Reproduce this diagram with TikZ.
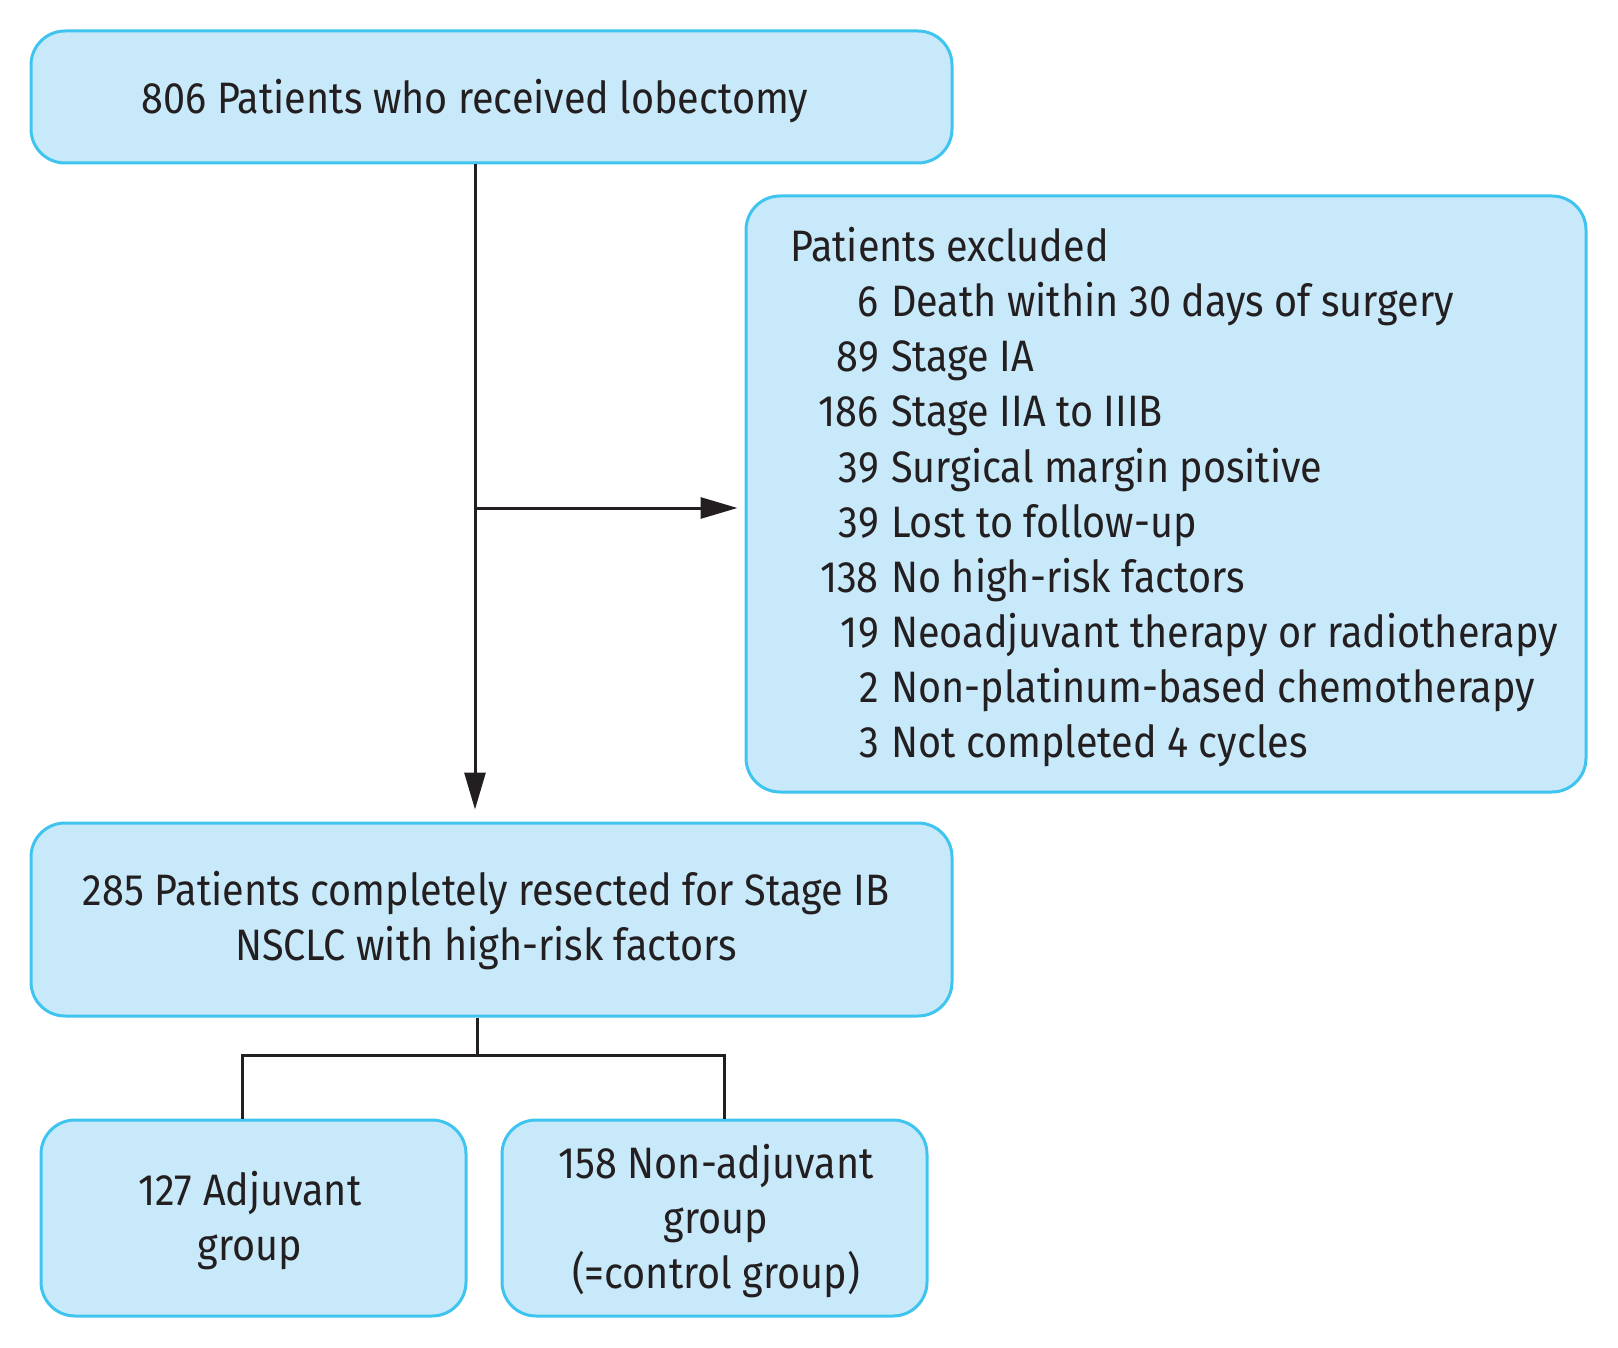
\documentclass[tikz,border=0pt]{standalone}
\usepackage{fontspec}
\setmainfont{Fira Sans}[FakeStretch=0.90]
\usetikzlibrary{arrows.meta,calc}
\definecolor{boxfill}{HTML}{C8E9FA}
\definecolor{boxdraw}{HTML}{3FC4EF}
\definecolor{ink}{HTML}{231F20}
\tikzset{
  box/.style={draw=boxdraw, fill=boxfill, line width=3pt, rounded corners=34pt, inner sep=0pt},
  txt/.style={inner sep=0pt, text=ink, font=\fontsize{44}{55}\selectfont, align=center},
  conn/.style={draw=ink, line width=3pt},
  arr/.style={conn, -{Triangle[length=37pt,width=21pt]}},
}
\begin{document}
\begin{tikzpicture}[x=1pt,y=-1pt]
\useasboundingbox (0,0) rectangle (1618,1348);
% boxes
\node[box, minimum width=921pt, minimum height=132pt] (top) at (491.5,97) {};
\node[box, minimum width=840pt, minimum height=596pt] (excl) at (1166,494) {};
\node[box, minimum width=921pt, minimum height=193pt] (mid) at (491.5,919.5) {};
\node[box, minimum width=425pt, minimum height=196pt] (left) at (253.5,1218) {};
\node[box, minimum width=425pt, minimum height=196pt] (right) at (714.5,1218) {};
% texts
\node[txt] (ttop) at (475,101) {806 Patients who received lobectomy};
\node[txt] (tmid) at (486,921) {285 Patients completely resected for Stage IB\\NSCLC with high-risk factors};
\node[txt] (tleft) at (250,1221) {127 Adjuvant\\group};
\node[txt] (tright) at (716,1221) {158 Non-adjuvant\\group\\(=control group)};
\node[txt, anchor=base west] (thead) at (790,262) {Patients excluded};
\foreach \n/\t [count=\i] in {6/Death within 30 days of surgery,
  89/Stage IA, 186/Stage IIA to IIIB, 39/Surgical margin positive,
  39/Lost to follow-up, 138/No high-risk factors,
  19/Neoadjuvant therapy or radiotherapy, 2/Non-platinum-based chemotherapy,
  3/Not completed 4 cycles}{
  \node[txt, anchor=base east] (num\i) at (879,262+55*\i) {\n};
  \node[txt, anchor=base west] (item\i) at (891,262+55*\i) {\t};
}
% connectors
\coordinate (j) at (475,508);
\coordinate (s) at (477,1055);
\draw[arr, shorten >=12pt] (top.south -| j) -- (mid.north -| j);
\draw[arr, shorten >=7pt] (j) -- (j -| excl.west);
\draw[conn] (mid.south -| s) -- (s);
\draw[conn] ($(left.north)+(-11,0)$) |- (s) -| ($(right.north)+(10,0)$);
\end{tikzpicture}
\end{document}
